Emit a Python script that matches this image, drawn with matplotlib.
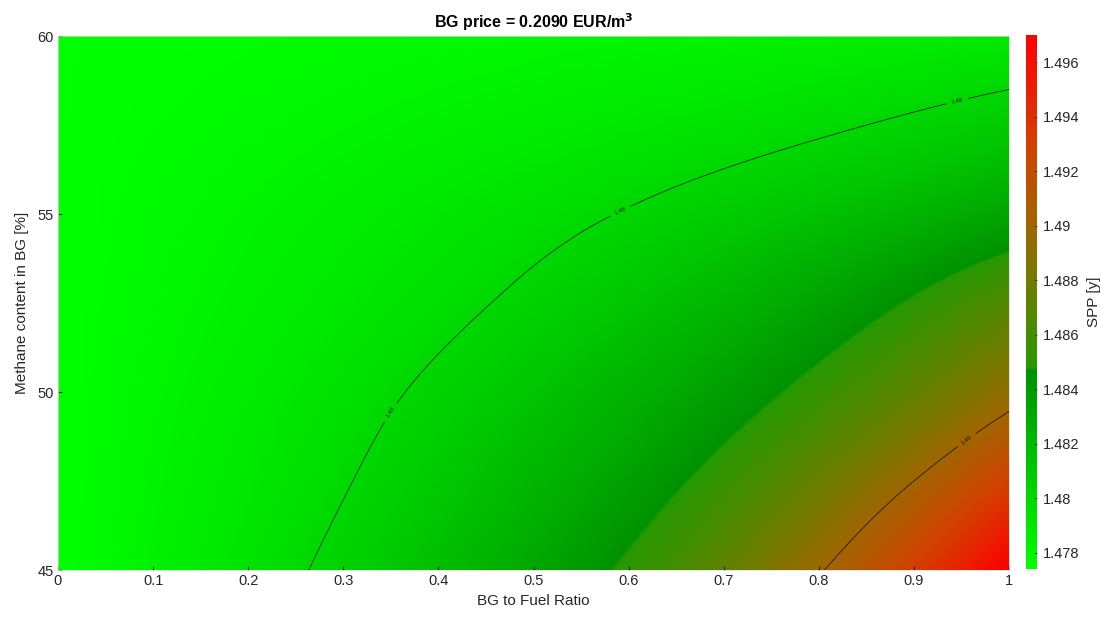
import numpy as np
import matplotlib
matplotlib.use('Agg')
import matplotlib.pyplot as plt
import matplotlib.tri as mtri
from matplotlib.colors import LinearSegmentedColormap

plt.rcParams['font.family'] = ['Liberation Sans', 'DejaVu Sans']

# values (SPP in years)
bg_ratio = [0.0, 0.1, 0.2, 0.3, 0.4, 0.5, 0.6, 0.7, 0.8, 0.9, 1.0]
methane = [45.0, 47.5, 50.0, 52.5, 55.0, 57.5, 60.0]
spp_45 = [1.47740, 1.47829, 1.47929, 1.48043, 1.48174, 1.48327, 1.48507, 1.48722, 1.48983, 1.49307, 1.49721]
spp_475 = [1.47740, 1.47813, 1.47896, 1.47990, 1.48098, 1.48223, 1.48369, 1.48544, 1.48754, 1.49000, 1.49300]
spp_50 = [1.47740, 1.47801, 1.47868, 1.47945, 1.48031, 1.48130, 1.48245, 1.48379, 1.48537, 1.48720, 1.48930]
spp_525 = [1.47740, 1.47786, 1.47837, 1.47894, 1.47960, 1.48035, 1.48123, 1.48225, 1.48347, 1.48494, 1.48660]
spp_55 = [1.47740, 1.47774, 1.47812, 1.47853, 1.47900, 1.47951, 1.48009, 1.48075, 1.48150, 1.48237, 1.48338]
spp_575 = [1.47740, 1.47760, 1.47781, 1.47805, 1.47832, 1.47861, 1.47895, 1.47933, 1.47976, 1.48026, 1.48084]
spp_60 = [1.47740, 1.47748, 1.47757, 1.47767, 1.47777, 1.47789, 1.47803, 1.47818, 1.47836, 1.47856, 1.47880]
spp = np.array([spp_45, spp_475, spp_50, spp_525, spp_55, spp_575, spp_60])

contour_levels = [1.48, 1.49]
cbar_ticks = [1.478, 1.480, 1.482, 1.484, 1.486, 1.488, 1.490, 1.492, 1.494, 1.496]
cbar_labels = ['1.478', '1.48', '1.482', '1.484', '1.486', '1.488', '1.49', '1.492', '1.494', '1.496']

vmin, vmax = 1.4774, 1.4970

# green -> dark green, then jump to olive -> red
def frac(v):
    return (v - vmin) / (vmax - vmin)

brk = frac(1.4847)
cmap = LinearSegmentedColormap.from_list('spp', [
    (0.0, (0.0, 1.0, 0.0)),
    (brk, (0.0, 0.57, 0.0)),
    (brk + 0.004, (0.15, 0.60, 0.0)),
    (frac(1.488), (0.45, 0.48, 0.0)),
    (frac(1.490), (0.63, 0.40, 0.0)),
    (frac(1.493), (0.83, 0.25, 0.0)),
    (1.0, (1.0, 0.0, 0.0)),
], N=1024)

# smooth surface from the read grid
X, M = np.meshgrid(bg_ratio, methane)
tri = mtri.Triangulation(X.ravel(), M.ravel())
interp = mtri.CubicTriInterpolator(tri, spp.ravel(), kind='min_E')
xf = np.linspace(1e-9, 1 - 1e-9, 700)
mf = np.linspace(45 + 1e-9, 60 - 1e-9, 450)
XX, MM = np.meshgrid(xf, mf)
Z = np.ma.filled(interp(XX, MM), vmin)

fig = plt.figure(figsize=(11.01, 6.19), dpi=100)
ax = fig.add_axes([58 / 1101, 49 / 619, 951 / 1101, 534 / 619])

im = ax.imshow(Z, extent=[0, 1, 45, 60], origin='lower', aspect='auto',
               cmap=cmap, vmin=vmin, vmax=vmax, interpolation='bilinear')

cs = ax.contour(XX, MM, Z, levels=contour_levels, colors='k', linewidths=0.55, alpha=0.85)
ax.clabel(cs, fmt={1.48: '1.48', 1.49: '1.49'}, fontsize=4.5,
          manual=[(0.354, 49.35), (0.591, 55.1), (0.948, 57.9), (0.956, 48.65)])

ax.set_xlim(0, 1)
ax.set_ylim(45, 60)
ax.set_xticks(bg_ratio)
ax.set_xticklabels(['0', '0.1', '0.2', '0.3', '0.4', '0.5', '0.6', '0.7', '0.8', '0.9', '1'])
ax.set_yticks([45, 50, 55, 60])
ax.tick_params(direction='in', length=3, color='0.15', labelsize=10.5, labelcolor='0.15', pad=3)
for s in ax.spines.values():
    s.set_color('0.85')
    s.set_linewidth(0.5)

ax.set_xlabel('BG to Fuel Ratio', fontsize=11, color='0.15', labelpad=4)
ax.set_ylabel('Methane content in BG [%]', fontsize=11, color='0.15', labelpad=6)
ax.set_title(r'BG price = 0.2090 EUR/m$^\mathbf{3}$', fontsize=11.5, fontweight='bold', pad=6)

cax = fig.add_axes([1026 / 1101, 50 / 619, 11 / 1101, 534 / 619])
cb = fig.colorbar(im, cax=cax)
cb.set_ticks(cbar_ticks)
cb.set_ticklabels(cbar_labels)
cb.outline.set_linewidth(0)
cax.tick_params(direction='in', length=2, color='0.3', labelsize=10.5, labelcolor='0.15', pad=4)
cb.set_label('SPP [y]', fontsize=11, color='0.15', labelpad=6)

fig.savefig('out.png', dpi=100)
